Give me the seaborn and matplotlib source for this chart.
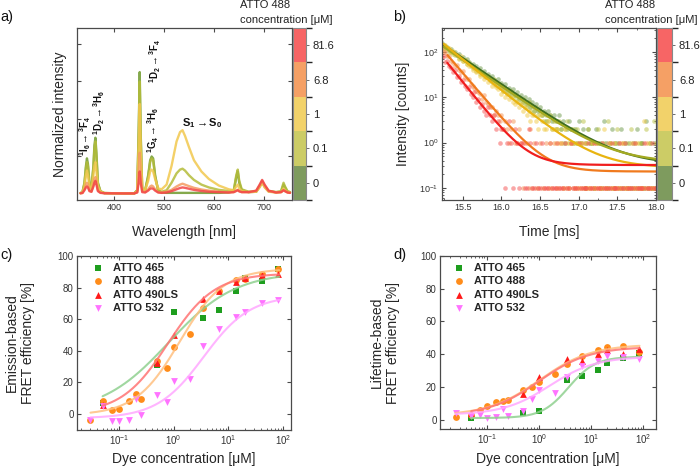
import numpy as np
import matplotlib
matplotlib.use("Agg")
import matplotlib.pyplot as plt
import seaborn as sns
from matplotlib.colors import ListedColormap, BoundaryNorm
from matplotlib.cm import ScalarMappable
from matplotlib.ticker import LogLocator, NullFormatter, MultipleLocator, FormatStrFormatter, FixedLocator

sns.set_theme(style="ticks")
plt.rcParams["font.family"] = ["Liberation Sans", "DejaVu Sans"]
plt.rcParams["mathtext.fontset"] = "custom"
plt.rcParams["mathtext.rm"] = "Liberation Sans"
plt.rcParams["mathtext.it"] = "Liberation Sans:italic"
plt.rcParams["mathtext.bf"] = "Liberation Sans:bold"

# ---------------- colour bar (ATTO 488 concentration) ----------------
cb_labels = ["0", "0.1", "1", "6.8", "81.6"]
cb_colors = ["#7e9b5e", "#cccc66", "#f2d26a", "#f5a065", "#f76565"]

# ---------------- panel a: spectra ----------------
wavelength = [332, 336, 340, 343, 345, 347, 350, 354, 358, 360,
              362, 364, 367, 372, 380, 420, 440, 446, 449, 451,
              453, 456, 462, 468, 472, 475, 478, 482, 488, 495,
              505, 515, 525, 532, 537, 542, 550, 560, 575, 590,
              610, 630, 640, 645, 648, 651, 656, 670, 685, 692,
              697, 702, 710, 725, 735, 740, 743, 748, 753]
spec_0 = [0.005, 0.01, 0.06, 0.15, 0.19, 0.16, 0.06, 0.03, 0.15, 0.26,
          0.30, 0.22, 0.06, 0.015, 0.005, 0.003, 0.003, 0.02, 0.35, 0.65,
          0.32, 0.03, 0.02, 0.10, 0.18, 0.20, 0.19, 0.10, 0.02, 0.008,
          0.006, 0.006, 0.006, 0.006, 0.006, 0.006, 0.006, 0.006, 0.006, 0.006,
          0.006, 0.008, 0.015, 0.09, 0.12, 0.06, 0.02, 0.01, 0.012, 0.04,
          0.065, 0.04, 0.015, 0.01, 0.012, 0.05, 0.035, 0.012, 0.01]
spec_01 = [0.005, 0.01, 0.055, 0.14, 0.17, 0.15, 0.055, 0.03, 0.14, 0.24,
           0.28, 0.20, 0.055, 0.015, 0.005, 0.003, 0.003, 0.02, 0.32, 0.60,
           0.30, 0.03, 0.02, 0.09, 0.17, 0.19, 0.18, 0.09, 0.02, 0.012,
           0.02, 0.06, 0.11, 0.13, 0.135, 0.125, 0.10, 0.075, 0.05, 0.035,
           0.022, 0.016, 0.02, 0.10, 0.13, 0.07, 0.025, 0.012, 0.012, 0.04,
           0.065, 0.04, 0.015, 0.01, 0.015, 0.06, 0.04, 0.015, 0.01]
spec_1 = [0.004, 0.008, 0.04, 0.10, 0.125, 0.10, 0.04, 0.02, 0.10, 0.15,
          0.17, 0.12, 0.04, 0.012, 0.005, 0.003, 0.003, 0.015, 0.25, 0.48,
          0.23, 0.03, 0.02, 0.07, 0.12, 0.13, 0.12, 0.08, 0.03, 0.025,
          0.05, 0.15, 0.28, 0.33, 0.34, 0.31, 0.25, 0.18, 0.12, 0.08,
          0.045, 0.025, 0.02, 0.04, 0.05, 0.03, 0.015, 0.01, 0.012, 0.035,
          0.06, 0.035, 0.012, 0.008, 0.01, 0.03, 0.02, 0.01, 0.008]
spec_68 = [0.004, 0.006, 0.025, 0.05, 0.06, 0.05, 0.02, 0.012, 0.05, 0.08,
           0.09, 0.065, 0.02, 0.008, 0.004, 0.003, 0.003, 0.01, 0.12, 0.22,
           0.11, 0.015, 0.01, 0.025, 0.04, 0.045, 0.04, 0.025, 0.01, 0.008,
           0.012, 0.022, 0.04, 0.05, 0.055, 0.05, 0.042, 0.033, 0.024, 0.018,
           0.012, 0.009, 0.01, 0.018, 0.022, 0.015, 0.01, 0.01, 0.015, 0.045,
           0.07, 0.045, 0.015, 0.008, 0.01, 0.02, 0.015, 0.008, 0.006]
spec_816 = [0.004, 0.005, 0.02, 0.035, 0.04, 0.035, 0.015, 0.012, 0.04, 0.06,
            0.07, 0.05, 0.015, 0.006, 0.004, 0.003, 0.003, 0.008, 0.06, 0.12,
            0.06, 0.01, 0.008, 0.018, 0.028, 0.03, 0.028, 0.018, 0.008, 0.006,
            0.008, 0.015, 0.025, 0.032, 0.035, 0.033, 0.028, 0.022, 0.016, 0.012,
            0.01, 0.008, 0.01, 0.016, 0.02, 0.014, 0.01, 0.01, 0.018, 0.05,
            0.075, 0.05, 0.018, 0.008, 0.01, 0.02, 0.015, 0.008, 0.006]
spec_colors = ["#6f9a2c", "#b4bc3a", "#f2c84e", "#f59a60", "#f24545"]

# ---------------- panel b: decays ----------------
counts_0 = [150, 160, 140, 135, 128, 110, 115, 98, 100, 85,
            90, 75, 78, 65, 70, 60, 52, 55, 46, 50,
            40, 44, 35, 38, 30, 33, 26, 30, 24, 22,
            25, 19, 21, 16, 20, 14, 16, 12, 15, 11,
            13, 9, 11, 8, 10, 7, 9, 6, 8, 5,
            7, 5, 6, 4, 5, 3, 5, 4, 3, 4,
            2, 3, 4, 2, 3, 1, 2, 3, 2, 1,
            2, 1, 3, 1, 2, 0, 1, 2, 1, 1,
            0, 2, 1, 1, 0, 3, 1, 0, 1, 2,
            0, 1, 1, 0, 2, 0, 1, 0, 1, 0,
            1, 0, 2, 0, 1, 1, 0, 3, 0, 1, 0, 1, 0]
counts_01 = [140, 145, 125, 118, 120, 100, 102, 90, 85, 88,
             70, 75, 62, 66, 55, 58, 48, 44, 47, 38,
             40, 33, 36, 30, 28, 30, 24, 22, 25, 19,
             21, 17, 18, 14, 16, 13, 12, 14, 10, 11,
             9, 10, 8, 9, 7, 6, 8, 5, 6, 5,
             6, 4, 5, 4, 3, 4, 3, 4, 2, 3,
             3, 2, 3, 2, 1, 2, 3, 1, 2, 2,
             1, 2, 1, 1, 3, 1, 0, 2, 1, 1,
             0, 1, 2, 0, 1, 1, 0, 3, 1, 0,
             1, 0, 2, 1, 0, 1, 0, 1, 0, 2,
             0, 1, 0, 1, 1, 0, 0, 2, 0, 1, 0, 3, 0]
counts_1 = [160, 150, 140, 145, 120, 125, 100, 104, 90, 88,
            75, 80, 62, 66, 55, 50, 52, 40, 45, 36,
            38, 30, 33, 25, 28, 22, 24, 18, 20, 17,
            15, 17, 12, 14, 10, 12, 9, 10, 8, 7,
            8, 6, 7, 5, 6, 4, 5, 3, 4, 4,
            3, 2, 4, 3, 2, 2, 3, 1, 2, 2,
            1, 2, 1, 1, 0, 2, 1, 0, 1, 1,
            0, 1, 0, 1, 0, 0, 1, 0, 0, 1,
            0, 0, 1, 0, 0, 2, 0, 0, 1, 0,
            0, 1, 0, 0, 0, 1, 0, 0, 0, 1,
            0, 0, 1, 0, 0, 0, 3, 0, 1, 0, 0, 0, 1]
counts_68 = [130, 118, 100, 98, 80, 80, 64, 58, 50, 52,
             40, 36, 38, 28, 26, 25, 20, 18, 16, 14,
             13, 12, 9, 11, 8, 7, 6, 6, 4, 5,
             4, 3, 4, 2, 3, 2, 1, 2, 3, 1,
             1, 2, 1, 0, 1, 1, 0, 2, 0, 1,
             0, 0, 1, 0, 0, 1, 0, 0, 0, 1,
             0, 0, 0, 1, 0, 0, 0, 0, 1, 0,
             0, 0, 0, 0, 1, 0, 0, 0, 0, 0,
             0, 1, 0, 0, 0, 0, 0, 1, 0, 0,
             0, 0, 0, 0, 1, 0, 0, 0, 0, 0,
             1, 0, 0, 0, 0, 0, 0, 1, 0, 0, 0, 0, 0]
counts_816 = [95, 78, 80, 60, 62, 48, 45, 36, 40, 28,
              30, 22, 24, 18, 15, 17, 12, 10, 13, 8,
              9, 6, 7, 5, 4, 6, 4, 3, 4, 2,
              3, 1, 2, 2, 0, 1, 3, 1, 0, 2,
              1, 0, 1, 1, 0, 0, 2, 1, 0, 0,
              1, 0, 0, 1, 0, 0, 0, 1, 0, 0,
              0, 1, 0, 0, 0, 1, 0, 0, 1, 0,
              0, 0, 1, 0, 0, 0, 0, 1, 0, 0,
              1, 0, 0, 0, 1, 0, 0, 0, 0, 1,
              0, 0, 0, 1, 0, 0, 1, 0, 0, 0,
              0, 1, 0, 0, 0, 0, 1, 0, 0, 0, 1, 0, 0]
decay_amp = [141, 130, 150, 71, 60]
decay_t0 = [15.25, 15.25, 15.25, 15.34, 15.29]
decay_tau = [0.375, 0.37, 0.317, 0.217, 0.203]
decay_base = [0.32, 0.36, 0.28, 0.23, 0.32]
decay_start = [15.25, 15.25, 15.25, 15.3, 15.3]
dot_colors = ["#6e9a4a", "#b8c040", "#f0c840", "#f59050", "#f55050"]
fitline_colors_b = ["#3e6e1e", "#a4aa22", "#e8b410", "#f07a1e", "#f01e1e"]

# ---------------- panels c, d: FRET efficiency ----------------
dyes = ["ATTO 465", "ATTO 488", "ATTO 490LS", "ATTO 532"]
conc_short = [0.05, 0.5, 1, 3.4, 6.8, 13.6, 20.4, 40.8, 81.6]
conc_long_c = [0.03, 0.05, 0.075, 0.1, 0.15, 0.2, 0.25, 0.5, 0.75, 1,
               2, 3.4, 6.8, 13.6, 20.4, 40.8, 81.6]
conc_long_d = [0.025, 0.05, 0.075, 0.1, 0.15, 0.2, 0.25, 0.5, 0.75, 1,
               2, 3.4, 6.8, 13.6, 20.4, 40.8, 81.6]

emis_465 = [6.5, 31, 64.4, 60.6, 65.9, 78, 85.8, 84.3, 92]
emis_488 = [-4, 8, 2.1, 3.2, 7.8, 12.3, 9.3, 33.5, 29.2, 42.2,
            50.6, 67.1, 78, 84.5, 85.5, 88.6, 91.7]
emis_490 = [5.5, 32, 50, 72.9, 78, 83.5, 85.8, 88, 88.5]
emis_532 = [-4, 4.9, -4.4, -4.4, -4, 9.3, -1, 11.5, 7.6, 20.8,
            22, 42.6, 53.8, 61.6, 64.4, 70.3, 72.2]

life_465 = [1.2, 4.3, 5.3, 24, 26.8, 30.5, 34.5, 37.6, 40.5]
life_488 = [1.5, 3, 5.7, 8.1, 10.6, 11.2, 11.8, 17.9, 19.9, 22.8,
            28, 34.1, 38.6, 42.3, 44.7, 45.1, 41.5]
life_490 = [4, 15.9, 26, 37, 35.8, 40.2, 42.7, 40, 43]
life_532 = [4.1, 2, 3, 1, 1.6, 6.5, 2.4, 5.3, 12.6, 18.3,
            16.3, 26, 32.5, 35.8, 39, 38.2, 37.2]

# dose-response fit parameters (bottom, top, midpoint, slope, first concentration)
fitc_bottom = [0, -1, 0, -3]
fitc_top = [90, 92, 89, 75]
fitc_mid = [0.803, 1.277, 0.784, 3.53]
fitc_slope = [0.71, 1.078, 1.02, 1.024]
fitc_start = [0.05, 0.03, 0.05, 0.03]
fitd_bottom = [1, 2.5, 2.5, 3]
fitd_top = [38.5, 46, 44.5, 38.5]
fitd_mid = [3.7, 1.026, 1.0, 1.605]
fitd_slope = [1.69, 0.877, 0.9, 0.98]
fitd_start = [0.05, 0.025, 0.05, 0.025]

dye_markers = ["s", "o", "^", "v"]
dye_colors = ["#1e9e1e", "#ff8c1a", "#ff1a1a", "#ff73ff"]
dye_fit_colors = ["#8fd08f", "#ffc080", "#ff7373", "#ffa8ff"]

# =====================================================================
W, H = 700, 466
fig = plt.figure(figsize=(7, 4.66), dpi=100)


def box(l, t, r, b):
    return [l / W, 1 - b / H, (r - l) / W, (b - t) / H]


axA = fig.add_axes(box(77, 28, 292, 200))
caxA = fig.add_axes(box(293, 28, 306, 200))
axB = fig.add_axes(box(442, 28, 656, 200))
caxB = fig.add_axes(box(657, 28, 672, 200))
axC = fig.add_axes(box(77, 256, 291, 430))
axD = fig.add_axes(box(440, 256, 656, 429))

SPINE = "#4a4a4a"


def style(ax, lsize=6.5):
    for s in ax.spines.values():
        s.set_color(SPINE)
        s.set_linewidth(0.9)
    ax.tick_params(direction="in", top=True, right=True, which="both",
                   color=SPINE, labelcolor="#333333", labelsize=lsize, pad=2.5)
    ax.tick_params(which="major", length=3, width=0.8)
    ax.tick_params(which="minor", length=1.7, width=0.6)


# ---------------- panel a ----------------
for vals, col in zip([spec_0, spec_01, spec_1, spec_68, spec_816], spec_colors):
    sns.lineplot(x=wavelength, y=vals, ax=axA, color=col, lw=1.7, alpha=0.85,
                 estimator=None, sort=False)
axA.set_xlim(325, 757)
axA.set_ylim(-0.032, 0.885)
axA.set_xticks([400, 500, 600, 700])
axA.set_yticks([0.2, 0.4, 0.6, 0.8])
axA.set_yticklabels([])
style(axA)
axA.set_xlabel("Wavelength [nm]", fontsize=10)
axA.set_ylabel("Normalized intensity", fontsize=10)
axA.xaxis.set_label_coords(0.5, -0.145)
axA.yaxis.set_label_coords(-0.047, 0.5)

ann_kw = dict(fontsize=7, color="#111111", rotation=90, ha="center", va="bottom")
axA.text(342, 0.20, r"$\mathbf{{}^{1}I_{6}}\rightarrow\mathbf{{}^{3}F_{4}}$", **ann_kw)
axA.text(369, 0.315, r"$\mathbf{{}^{1}D_{2}}\rightarrow\mathbf{{}^{3}H_{6}}$", **ann_kw)
axA.text(482, 0.59, r"$\mathbf{{}^{1}D_{2}}\rightarrow\mathbf{{}^{3}F_{4}}$", **ann_kw)
axA.text(478, 0.22, r"$\mathbf{{}^{1}G_{4}}\rightarrow\mathbf{{}^{3}H_{6}}$", **ann_kw)
axA.text(576, 0.38, r"$\mathbf{S_{1}}\rightarrow\mathbf{S_{0}}$", fontsize=8,
         color="#111111", ha="center", va="center")

# ---------------- colour bars ----------------
cmap = ListedColormap(cb_colors)
norm = BoundaryNorm(np.arange(len(cb_colors) + 1), len(cb_colors))
for cax, xt in [(caxA, 240), (caxB, 605)]:
    cb = fig.colorbar(ScalarMappable(norm=norm, cmap=cmap), cax=cax,
                      ticks=np.arange(len(cb_labels)) + 0.5)
    cb.set_ticklabels(cb_labels)
    cb.outline.set_edgecolor("#888888")
    cb.outline.set_linewidth(0.8)
    cax.tick_params(labelsize=8, length=2, width=0.6, color="#555555",
                    labelcolor="#222222", pad=3)
    fig.text(xt / W, 1 - 5 / H, "ATTO 488", fontsize=8, ha="left", va="center",
             color="#222222")
    fig.text(xt / W, 1 - 20 / H, "concentration [μM]", fontsize=8, ha="left",
             va="center", color="#222222")

# ---------------- panel b ----------------
t_grid = np.round(15.2 + 0.025 * np.arange(len(counts_0)), 3)
for cnt, col in zip([counts_0, counts_01, counts_1, counts_68, counts_816], dot_colors):
    yv = np.where(np.array(cnt) == 0, 0.1, np.array(cnt, dtype=float))
    sns.scatterplot(x=t_grid, y=yv, ax=axB, color=col, s=11, alpha=0.5,
                    linewidth=0, legend=False)
for i, col in enumerate(fitline_colors_b):
    tt = np.linspace(decay_start[i], 18.0, 300)
    yy = decay_amp[i] * np.exp(-(tt - decay_t0[i]) / decay_tau[i]) + decay_base[i]
    sns.lineplot(x=tt, y=yy, ax=axB, color=col, lw=1.6, estimator=None, sort=False)
axB.set_yscale("log")
axB.set_xlim(15.23, 18.0)
axB.set_ylim(0.054, 339)
axB.set_xticks([15.5, 16.0, 16.5, 17.0, 17.5, 18.0])
axB.xaxis.set_major_formatter(FormatStrFormatter("%.1f"))
axB.xaxis.set_minor_locator(MultipleLocator(0.25))
axB.yaxis.set_major_locator(LogLocator(base=10, numticks=10))
axB.yaxis.set_minor_locator(LogLocator(base=10, subs=np.arange(2, 10), numticks=10))
axB.yaxis.set_minor_formatter(NullFormatter())
style(axB)
axB.set_xlabel("Time [ms]", fontsize=10)
axB.set_ylabel("Intensity [counts]", fontsize=10)
axB.xaxis.set_label_coords(0.5, -0.145)
axB.yaxis.set_label_coords(-0.15, 0.5)


# ---------------- panels c & d ----------------
def fret_panel(ax, data, bottom, top, mid, slope, start, xlim, ylim, ylabel, leg_x):
    for i in range(4):
        xf = np.logspace(np.log10(start[i]), np.log10(85), 200)
        yf = bottom[i] + (top[i] - bottom[i]) / (1 + (mid[i] / xf) ** slope[i])
        sns.lineplot(x=xf, y=yf, ax=ax, color=dye_fit_colors[i], lw=1.5,
                     alpha=0.85, estimator=None, sort=False)
    for i in range(4):
        xs, ys = data[i]
        sns.scatterplot(x=xs, y=ys, ax=ax, marker=dye_markers[i],
                        color=dye_colors[i], s=24, linewidth=0, label=dyes[i])
    ax.set_xscale("log")
    ax.set_xlim(*xlim)
    ax.set_ylim(*ylim)
    ax.set_yticks([0, 20, 40, 60, 80, 100])
    ax.xaxis.set_major_locator(FixedLocator([0.1, 1, 10, 100]))
    ax.xaxis.set_minor_locator(LogLocator(base=10, subs=np.arange(2, 10), numticks=10))
    ax.xaxis.set_minor_formatter(NullFormatter())
    style(ax, 7)
    ax.set_xlabel("Dye concentration [μM]", fontsize=10)
    ax.set_ylabel(ylabel, fontsize=10)
    ax.legend(loc="upper left", bbox_to_anchor=(leg_x, 0.985), frameon=False,
              prop={"weight": "bold", "size": 8}, handlelength=1.0,
              handletextpad=0.85, labelspacing=0.3, borderaxespad=0)


fret_panel(axC,
           [(conc_short, emis_465), (conc_long_c, emis_488),
            (conc_short, emis_490), (conc_long_c, emis_532)],
           fitc_bottom, fitc_top, fitc_mid, fitc_slope, fitc_start,
           (0.017, 140), (-10.4, 100), "Emission-based\nFRET efficiency [%]", 0.05)
axC.xaxis.set_label_coords(0.5, -0.128)
axC.yaxis.set_label_coords(-0.196, 0.5)

fret_panel(axD,
           [(conc_short, life_465), (conc_long_d, life_488),
            (conc_short, life_490), (conc_long_d, life_532)],
           fitd_bottom, fitd_top, fitd_mid, fitd_slope, fitd_start,
           (0.0126, 176), (-5.7, 100), "Lifetime-based\nFRET efficiency [%]", 0.04)
axD.xaxis.set_label_coords(0.5, -0.133)
axD.yaxis.set_label_coords(-0.185, 0.5)

# panel letters
for lbl, x, y in [("a)", 0, 17), ("b)", 393, 17), ("c)", 0, 255), ("d)", 393, 255)]:
    fig.text(x / W, 1 - y / H, lbl, fontsize=10.5, ha="left", va="center",
             color="#111111")

fig.savefig("out.png", dpi=100)
